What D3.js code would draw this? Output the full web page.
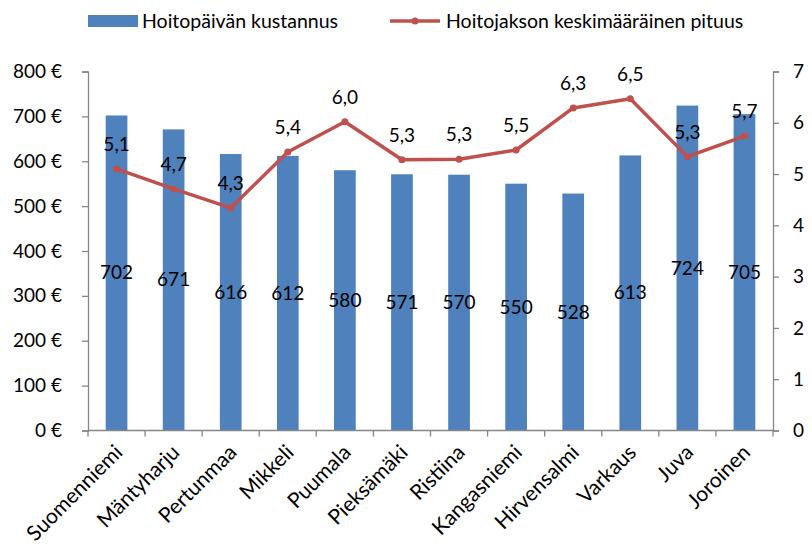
<!DOCTYPE html>
<html><head><meta charset="utf-8">
<script src="https://cdn.jsdelivr.net/npm/d3@7"></script>
<style>
body{margin:0;background:#fff;}
text{font-family:Lato,"Open Sans",sans-serif;fill:#000;}
</style></head>
<body>
<svg id="c" width="812" height="547"></svg>
<script>
const categories = ["Suomenniemi","Mäntyharju","Pertunmaa","Mikkeli","Puumala","Pieksämäki","Ristiina","Kangasniemi","Hirvensalmi","Varkaus","Juva","Joroinen"];
const costValues = [702,671,616,612,580,571,570,550,528,613,724,705];
const lengthValues = [5.10,4.71,4.34,5.43,6.02,5.28,5.29,5.47,6.29,6.47,5.34,5.74];
const leftTicks = [0,100,200,300,400,500,600,700,800];
const rightTicks = [0,1,2,3,4,5,6,7];
const seriesNames = ["Hoitopäivän kustannus","Hoitojakson keskimääräinen pituus"];

const svg = d3.select("#c");
const L = 88, R = 773, T = 71.5, B = 430.5;
const x = d3.scaleBand().domain(categories).range([L, R]).paddingInner(0.62).paddingOuter(0.31);
const xb = d3.scaleBand().domain(categories).range([L, R]);
const yL = d3.scaleLinear().domain([0, 800]).range([B, T]);
const yR = d3.scaleLinear().domain([0, 7]).range([B, T]);
const axisColor = "#868686";
const fs = 19;

// bars
svg.append("g").selectAll("rect").data(costValues).join("rect")
  .attr("x", (d,i) => x(categories[i]))
  .attr("width", x.bandwidth())
  .attr("y", d => yL(d))
  .attr("height", d => B - yL(d))
  .attr("fill", "#4F81BD");

// left axis
const gl = svg.append("g").attr("transform", `translate(${L},0)`)
  .call(d3.axisLeft(yL).tickValues(leftTicks).tickSize(6).tickPadding(20).tickFormat(d => d + " €"));
// right axis
const gr = svg.append("g").attr("transform", `translate(${R},0)`)
  .call(d3.axisRight(yR).tickValues(rightTicks).tickSize(6).tickPadding(14).tickFormat(d3.format("d")));
// bottom axis
const gb = svg.append("g").attr("transform", `translate(0,${B})`)
  .call(d3.axisBottom(xb).tickSize(0).tickFormat(""));
[gl, gr, gb].forEach(g => {
  g.select(".domain").attr("stroke", axisColor).attr("stroke-width", 1.3);
  g.selectAll(".tick line").attr("stroke", axisColor).attr("stroke-width", 1.3);
  g.selectAll("text").style("font-size", fs + "px").style("font-family", "Lato,'Open Sans',sans-serif").attr("fill", "#000");
});
gb.select(".domain").attr("d", `M${L},0H${R}`);
// category boundary ticks
const bounds = categories.map(c => xb(c)).concat([R]);
svg.append("g").selectAll("line").data(bounds).join("line")
  .attr("x1", d => d).attr("x2", d => d).attr("y1", B).attr("y2", B + 6)
  .attr("stroke", axisColor).attr("stroke-width", 1.3);

// x labels
svg.append("g").selectAll("text").data(categories).join("text")
  .attr("transform", d => `translate(${xb(d) + xb.bandwidth()/2 + 2},${B + 18}) rotate(-45)`)
  .attr("text-anchor", "end")
  .attr("dy", "0.35em")
  .style("font-size", "21px")
  .text(d => d);

// bar labels
svg.append("g").selectAll("text").data(costValues).join("text")
  .attr("x", (d,i) => x(categories[i]) + x.bandwidth()/2)
  .attr("y", d => (yL(d) + B)/2 + 6.5)
  .attr("text-anchor", "middle")
  .style("font-size", fs + "px")
  .text(d => d);

// line
const cx = i => x(categories[i]) + x.bandwidth()/2;
const line = d3.line().x((d,i) => cx(i)).y(d => yR(d));
svg.append("path").datum(lengthValues).attr("d", line)
  .attr("fill", "none").attr("stroke", "#C0504D").attr("stroke-width", 3.5).attr("stroke-linejoin", "round");
svg.append("g").selectAll("circle").data(lengthValues).join("circle")
  .attr("cx", (d,i) => cx(i)).attr("cy", d => yR(d)).attr("r", 3.5).attr("fill", "#C0504D");
svg.append("g").selectAll("text").data(lengthValues).join("text")
  .attr("x", (d,i) => cx(i))
  .attr("y", d => yR(d) - 18)
  .attr("text-anchor", "middle")
  .style("font-size", fs + "px")
  .text(d => d.toFixed(1).replace(".", ","));

// legend
const lg = svg.append("g");
lg.append("rect").attr("x", 88).attr("y", 15).attr("width", 50).attr("height", 12).attr("fill", "#4F81BD");
lg.append("text").attr("x", 142).attr("y", 28).style("font-size", "19.5px").text(seriesNames[0]);
lg.append("line").attr("x1", 390).attr("x2", 440).attr("y1", 21).attr("y2", 21).attr("stroke", "#C0504D").attr("stroke-width", 3.5);
lg.append("circle").attr("cx", 415).attr("cy", 21).attr("r", 3.5).attr("fill", "#C0504D");
lg.append("text").attr("x", 446).attr("y", 28).style("font-size", "19.5px").text(seriesNames[1]);
</script>
</body></html>
